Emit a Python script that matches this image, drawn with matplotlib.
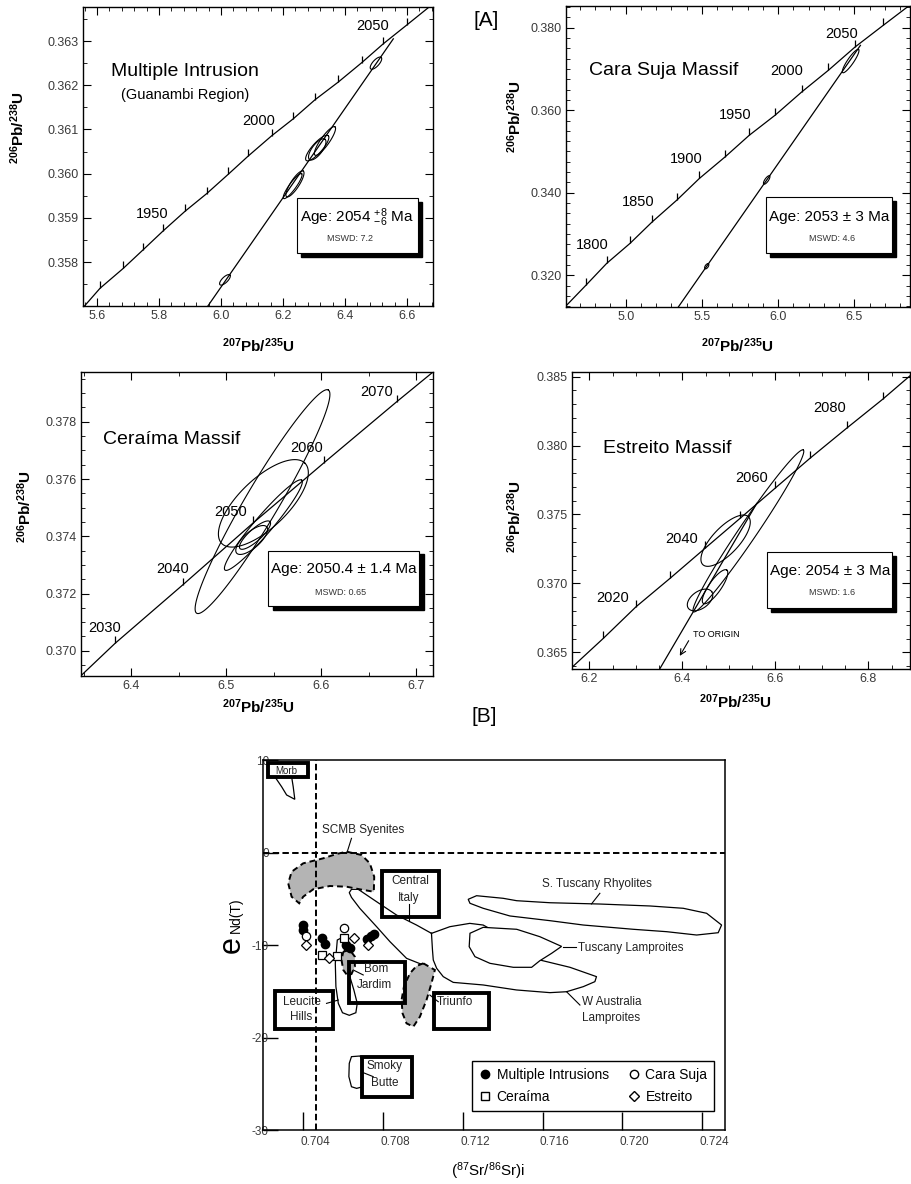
import numpy as np
import matplotlib
matplotlib.use("Agg")
import matplotlib.pyplot as plt
from matplotlib.patches import Rectangle
from matplotlib.lines import Line2D
from matplotlib.ticker import MultipleLocator, FormatStrFormatter
import matplotlib.transforms as mtransforms

plt.rcParams["font.family"] = ["Liberation Sans", "DejaVu Sans"]
plt.rcParams["mathtext.fontset"] = "custom"
plt.rcParams["mathtext.rm"] = "Liberation Sans"
plt.rcParams["mathtext.it"] = "Liberation Sans:italic"
plt.rcParams["mathtext.bf"] = "Liberation Sans:bold"

# ---------------- [A] Multiple Intrusion (Guanambi Region) ----------------
mi_ends_x = [5.555, 6.684]
mi_ends_y = [0.35697, 0.36384]
mi_tick_x = [5.610, 5.685, 5.749, 5.814, 5.884, 5.954, 6.024, 6.088, 6.164,
             6.233, 6.303, 6.378, 6.454, 6.524, 6.599]
mi_tick_y = [0.35741, 0.35786, 0.35828, 0.35871, 0.35915, 0.35955, 0.35999,
             0.36040, 0.36086, 0.36124, 0.36167, 0.36207, 0.36251, 0.36294, 0.36336]
mi_age = ["1950", "2000", "2050"]
mi_age_x = [5.777, 6.123, 6.490]
mi_age_y = [0.35908, 0.36120, 0.36333]
mi_disc_x = [5.954, 6.556]
mi_disc_y = [0.35697, 0.36305]
mi_ell_cx = [6.500, 6.3106, 6.3355, 6.3106, 6.2387, 6.2313, 6.0129]
mi_ell_cy = [0.36250, 0.36058, 0.36074, 0.36055, 0.35977, 0.35972, 0.35760]
mi_ell_ex = [6.517, 6.3461, 6.3677, 6.3355, 6.2655, 6.2603, 6.0290]
mi_ell_ey = [0.36263, 0.36086, 0.36106, 0.36078, 0.36006, 0.36000, 0.35771]
mi_ell_r = [0.4, 0.3, 0.25, 0.4, 0.28, 0.22, 0.4]

# ---------------- Cara Suja Massif ----------------
cs_ends_x = [4.608, 6.866]
cs_ends_y = [0.31260, 0.38550]
cs_tick_x = [4.740, 4.875, 5.028, 5.175, 5.335, 5.483, 5.652, 5.811, 5.980,
             6.155, 6.330, 6.505, 6.690]
cs_tick_y = [0.31765, 0.32290, 0.32774, 0.33300, 0.33821, 0.34346, 0.34869,
             0.35394, 0.35878, 0.36442, 0.36967, 0.37531, 0.38056]
cs_age = ["1800", "1850", "1900", "1950", "2000", "2050"]
cs_age_x = [4.7835, 5.0827, 5.3957, 5.7172, 6.0564, 6.4173]
cs_age_y = [0.32733, 0.33780, 0.34806, 0.35878, 0.36943, 0.37855]
cs_disc_x = [5.345, 6.540]
cs_disc_y = [0.31233, 0.37570]
cs_ell_cx = [6.476, 5.925, 5.5315]
cs_ell_cy = [0.3719, 0.3431, 0.3222]
cs_ell_ex = [6.528, 5.944, 5.5427]
cs_ell_ey = [0.3747, 0.3441, 0.3228]
cs_ell_r = [0.22, 0.35, 0.5]

# ---------------- Ceraima Massif ----------------
ce_ends_x = [6.347, 6.7176]
ce_ends_y = [0.36912, 0.37973]
ce_tick_x = [6.3832, 6.4544, 6.5287, 6.6032, 6.6797]
ce_tick_y = [0.37026, 0.37230, 0.37447, 0.37657, 0.37870]
ce_age = ["2030", "2040", "2050", "2060", "2070"]
ce_age_x = [6.3726, 6.4439, 6.5053, 6.5849, 6.6586]
ce_age_y = [0.37078, 0.37284, 0.37486, 0.37707, 0.37905]
ce_ell_cx = [6.5384, 6.5393, 6.5393, 6.5305, 6.5270]
ce_ell_cy = [0.37521, 0.37515, 0.37439, 0.37404, 0.37387]
ce_ell_ex = [6.6077, 6.5832, 6.5797, 6.5463, 6.5428]
ce_ell_ey = [0.37911, 0.37655, 0.37596, 0.37451, 0.37433]
ce_ell_r = [0.13, 0.42, 0.15, 0.3, 0.4]

# ---------------- Estreito Massif ----------------
es_ends_x = [6.162, 6.8897]
es_ends_y = [0.36390, 0.38506]
es_tick_x = [6.2301, 6.3004, 6.3735, 6.4488, 6.5241, 6.5993, 6.6746, 6.7535, 6.8310]
es_tick_y = [0.36602, 0.36831, 0.37037, 0.37255, 0.37472, 0.37690, 0.37908,
             0.38126, 0.38336]
es_age = ["2020", "2040", "2060", "2080"]
es_age_x = [6.2503, 6.3987, 6.5492, 6.7176]
es_age_y = [0.36892, 0.37320, 0.37763, 0.38271]
es_disc_x = [6.352, 6.560]
es_disc_y = [0.36384, 0.37580]
es_ell_cx = [6.542, 6.493, 6.438, 6.4703]
es_ell_cy = [0.37381, 0.3731, 0.3688, 0.36976]
es_ell_ex = [6.6602, 6.5419, 6.4632, 6.4955]
es_ell_ey = [0.37968, 0.37484, 0.3694, 0.37097]
es_ell_r = [0.09, 0.4, 0.6, 0.3]

# ---------------- [B] Sr-Nd diagram ----------------
sr_ticks = [0.704, 0.708, 0.712, 0.716, 0.720, 0.724]
nd_ticks = [-30, -20, -10, 0, 10]
sr_ref = 0.70462   # vertical dashed reference

mi_sr = [0.70400, 0.70400, 0.70495, 0.70507, 0.70617, 0.70634, 0.70722, 0.70740, 0.70755]
mi_nd = [-7.84, -8.38, -9.28, -9.89, -10.00, -10.36, -9.35, -9.00, -8.80]
cs_sr = [0.70414, 0.70604]
cs_nd = [-9.03, -8.20]
ce_sr = [0.70494, 0.70571, 0.70604]
ce_nd = [-11.08, -11.19, -9.28]
es_sr = [0.70414, 0.70530, 0.70656, 0.70726]
es_nd = [-10.00, -11.44, -9.28, -10.00]

scmb_x = [0.70618, 0.70693, 0.70734, 0.70756, 0.70754, 0.70684, 0.70618, 0.70534, 0.70450,
          0.70400, 0.70380, 0.70342, 0.70325, 0.70342, 0.70400, 0.70500, 0.70567]
scmb_y = [0.09, -0.27, -1.17, -2.62, -4.24, -3.98, -3.70, -3.62, -3.98,
          -4.78, -5.49, -4.78, -3.33, -2.08, -1.17, -0.63, -0.16]
ciwa_x = [0.71002, 0.70918, 0.70835, 0.70768, 0.70684, 0.70642, 0.70631, 0.70642, 0.70676,
          0.70768, 0.70868, 0.70968, 0.71043, 0.71135, 0.71235, 0.71302, 0.71469, 0.71586,
          0.71737, 0.71870, 0.71862, 0.71804, 0.71720, 0.71637, 0.71469, 0.71302, 0.71152,
          0.71102, 0.71069, 0.71052, 0.71048, 0.71043]
ciwa_y = [-12.16, -11.44, -9.64, -8.02, -6.04, -4.85, -4.34, -3.98, -3.98,
          -5.32, -6.76, -7.84, -8.74, -8.02, -7.66, -7.84, -9.82, -11.62,
          -12.41, -13.42, -13.96, -14.50, -15.05, -15.15, -14.86, -14.32, -14.04,
          -13.42, -12.52, -11.62, -10.54, -8.74]
tl_x = [0.71236, 0.71302, 0.71470, 0.71586, 0.71695, 0.71645, 0.71586, 0.71545,
        0.71453, 0.71336, 0.71261, 0.71232]
tl_y = [-8.73, -8.09, -8.30, -9.10, -10.15, -10.90, -11.70, -12.41,
        -12.41, -11.98, -11.26, -10.18]
str_x = [0.71227, 0.71269, 0.71402, 0.71470, 0.71637, 0.71887, 0.72138, 0.72305, 0.72422,
         0.72497, 0.72480, 0.72372, 0.72222, 0.72054, 0.71804, 0.71637, 0.71436, 0.71302, 0.71236]
str_y = [-5.06, -4.67, -4.95, -5.21, -5.43, -5.57, -5.78, -6.03, -6.57,
         -7.84, -8.67, -8.92, -8.56, -8.30, -7.84, -7.37, -6.86, -6.03, -5.49]
tri_x = [0.71002, 0.71060, 0.71043, 0.71018, 0.70985, 0.70952, 0.70918, 0.70898,
         0.70893, 0.70905, 0.70935, 0.70968]
tri_y = [-11.98, -12.70, -14.14, -15.95, -17.75, -18.83, -18.47, -17.39,
         -15.95, -14.50, -13.06, -12.27]
bj_x = [0.70601, 0.70634, 0.70659, 0.70659, 0.70642, 0.70621, 0.70601, 0.70592]
bj_y = [-10.72, -10.54, -11.26, -12.34, -13.14, -13.28, -12.70, -11.62]
lh_x = [0.70571, 0.70561, 0.70564, 0.70576, 0.70597, 0.70631, 0.70664, 0.70671,
        0.70654, 0.70634, 0.70617, 0.70601, 0.70587]
lh_y = [-9.46, -11.98, -14.50, -16.31, -17.32, -17.60, -17.32, -16.31,
        -14.86, -13.42, -11.62, -9.82, -9.28]
sb_x = [0.70642, 0.70684, 0.70698, 0.70698, 0.70668, 0.70642, 0.70629, 0.70631]
sb_y = [-22.07, -22.00, -22.43, -25.32, -25.50, -25.32, -24.23, -22.79]
mb_x = [0.70258, 0.70292, 0.70317, 0.70358, 0.70350, 0.70342]
mb_y = [8.19, 7.11, 6.22, 5.75, 7.11, 8.19]

# label boxes: (x0, x1, y0, y1)
label_boxes = [(0.70225, 0.70425, 8.20, 9.71),     # Morb
               (0.70793, 0.71080, -7.01, -2.00),   # Central Italy
               (0.70629, 0.70910, -16.31, -11.80), # Bom Jardim
               (0.70261, 0.70547, -19.08, -14.97), # Leucite Hills
               (0.71055, 0.71331, -19.08, -15.15), # Triunfo
               (0.70693, 0.70943, -26.40, -22.07)] # Smoky Butte
labels_txt = ["Morb", "Central", "Italy", "Bom", "Jardim", "Leucite", "Hills",
              "Triunfo", "Smoky", "Butte", "SCMB Syenites", "S. Tuscany Rhyolites"]
labels_x = [0.70317, 0.70935, 0.70927, 0.70764, 0.70759, 0.70392, 0.70392,
            0.71160, 0.70810, 0.70810, 0.70698, 0.71870]
labels_y = [8.85, -3.08, -4.95, -12.59, -14.32, -16.13, -17.75,
            -16.20, -23.08, -24.95, 2.43, -3.41]
leaders = [((0.70642, 0.70621), (1.53, 0.09)),
           ((0.71887, 0.71845), (-4.41, -5.56)),
           ((0.71703, 0.71767), (-10.18, -10.18)),
           ((0.71720, 0.71787), (-15.05, -16.49)),
           ((0.70932, 0.70932), (-5.56, -7.37)),
           ((0.70517, 0.70576), (-16.31, -15.95)),
           ((0.70651, 0.70701), (-12.70, -13.24)),
           ((0.71035, 0.71077), (-15.41, -16.13)),
           ((0.70701, 0.70751), (-23.80, -24.23))]

fig = plt.figure(figsize=(9.11, 11.84), dpi=100)


def concordia_panel(rect, xlim, ylim, xstep, xminor, ystep, yminor, xfmt):
    ax = fig.add_axes(rect)
    ax.set_xlim(xlim)
    ax.set_ylim(ylim)
    ax.xaxis.set_major_locator(MultipleLocator(xstep))
    ax.xaxis.set_minor_locator(MultipleLocator(xminor))
    ax.yaxis.set_major_locator(MultipleLocator(ystep))
    ax.yaxis.set_minor_locator(MultipleLocator(yminor))
    ax.xaxis.set_major_formatter(FormatStrFormatter(xfmt))
    ax.yaxis.set_major_formatter(FormatStrFormatter("%.3f"))
    ax.tick_params(which="both", direction="in", top=True, right=True,
                   labelsize=9, labelcolor="#3a3a3a", pad=3)
    ax.tick_params(which="major", length=6, width=0.8)
    ax.tick_params(which="minor", length=3, width=0.6)
    for s in ax.spines.values():
        s.set_linewidth(1.0)
    return ax


def draw_concordia(ax, ends_x, ends_y, tx, ty, ages, ax_, ay_):
    cx = [ends_x[0]] + tx + [ends_x[1]]
    cy = [ends_y[0]] + ty + [ends_y[1]]
    ax.plot(cx, cy, color="k", lw=0.9)
    ax.plot(tx, ty, ls="none", marker=2, ms=5, mew=0.9, color="k")
    for a, x, y in zip(ages, ax_, ay_):
        ax.text(x, y, a, fontsize=10.5, ha="center", va="center")


def draw_ellipses(ax, cx, cy, ex, ey, rr):
    T = ax.transData
    t = np.linspace(0, 2 * np.pi, 120)
    for a, b, c, d, r in zip(cx, cy, ex, ey, rr):
        c0 = T.transform((a, b))
        e0 = T.transform((c, d))
        u = e0 - c0
        v = r * np.array([-u[1], u[0]])
        pts = c0 + np.outer(np.cos(t), u) + np.outer(np.sin(t), v)
        dp = T.inverted().transform(pts)
        ax.plot(dp[:, 0], dp[:, 1], color="k", lw=0.8)


def age_box(ax, x0, x1, y0, y1, txt, tx, ty, mswd, mx, my):
    ax.add_patch(Rectangle((x0 + 0.012, y0 - 0.013), x1 - x0, y1 - y0,
                           transform=ax.transAxes, fc="k", ec="k", zorder=4))
    ax.add_patch(Rectangle((x0, y0), x1 - x0, y1 - y0, transform=ax.transAxes,
                           fc="white", ec="k", lw=0.8, zorder=5))
    ax.text(tx, ty, txt, transform=ax.transAxes, fontsize=11, ha="center",
            va="center", zorder=6)
    ax.text(mx, my, mswd, transform=ax.transAxes, fontsize=6.5, ha="center",
            va="center", zorder=6, color="#333333")


# ---- panel 1
ax1 = concordia_panel([0.0911, 0.7416, 0.3842, 0.2525], (5.555, 6.684),
                      (0.35701, 0.36377), 0.2, 0.04, 0.001, 0.0005, "%.1f")
draw_concordia(ax1, mi_ends_x, mi_ends_y, mi_tick_x, mi_tick_y, mi_age, mi_age_x, mi_age_y)
ax1.plot(mi_disc_x, mi_disc_y, color="k", lw=0.9)
draw_ellipses(ax1, mi_ell_cx, mi_ell_cy, mi_ell_ex, mi_ell_ey, mi_ell_r)
ax1.text(0.291, 0.783, "Multiple Intrusion", transform=ax1.transAxes, fontsize=14,
         ha="center", va="center")
ax1.text(0.291, 0.706, "(Guanambi Region)", transform=ax1.transAxes, fontsize=10.5,
         ha="center", va="center")
age_box(ax1, 0.611, 0.957, 0.177, 0.361, r"Age: 2054 $^{+8}_{-6}$ Ma", 0.784, 0.294,
        "MSWD: 7.2", 0.763, 0.227)

# ---- panel 2
ax2 = concordia_panel([0.6213, 0.7407, 0.3776, 0.2542], (4.608, 6.8655),
                      (0.31233, 0.38523), 0.5, 0.1, 0.02, 0.0025, "%.1f")
draw_concordia(ax2, cs_ends_x, cs_ends_y, cs_tick_x, cs_tick_y, cs_age, cs_age_x, cs_age_y)
ax2.plot(cs_disc_x, cs_disc_y, color="k", lw=0.9)
draw_ellipses(ax2, cs_ell_cx, cs_ell_cy, cs_ell_ex, cs_ell_ey, cs_ell_r)
ax2.text(0.284, 0.787, "Cara Suja Massif", transform=ax2.transAxes, fontsize=14,
         ha="center", va="center")
age_box(ax2, 0.581, 0.947, 0.180, 0.365, "Age: 2053 ± 3 Ma", 0.764, 0.300,
        "MSWD: 4.6", 0.773, 0.229)

# ---- panel 3
ax3 = concordia_panel([0.0886, 0.4291, 0.3864, 0.2565], (6.347, 6.7176),
                      (0.36912, 0.37973), 0.1, 0.05, 0.002, 0.0005, "%.1f")
draw_concordia(ax3, ce_ends_x, ce_ends_y, ce_tick_x, ce_tick_y, ce_age, ce_age_x, ce_age_y)
draw_ellipses(ax3, ce_ell_cx, ce_ell_cy, ce_ell_ex, ce_ell_ey, ce_ell_r)
ax3.text(0.259, 0.780, "Ceraíma Massif", transform=ax3.transAxes, fontsize=14,
         ha="center", va="center")
age_box(ax3, 0.533, 0.962, 0.231, 0.413, "Age: 2050.4 ± 1.4 Ma", 0.746, 0.351,
        "MSWD: 0.65", 0.737, 0.276)

# ---- panel 4
ax4 = concordia_panel([0.6276, 0.4347, 0.3713, 0.2514], (6.162, 6.8897),
                      (0.36377, 0.38536), 0.2, 0.05, 0.005, 0.001, "%.1f")
draw_concordia(ax4, es_ends_x, es_ends_y, es_tick_x, es_tick_y, es_age, es_age_x, es_age_y)
ax4.plot(es_disc_x, es_disc_y, color="k", lw=0.9)
draw_ellipses(ax4, es_ell_cx, es_ell_cy, es_ell_ex, es_ell_ey, es_ell_r)
ax4.text(0.282, 0.743, "Estreito Massif", transform=ax4.transAxes, fontsize=14,
         ha="center", va="center")
age_box(ax4, 0.578, 0.946, 0.205, 0.393, "Age: 2054 ± 3 Ma", 0.764, 0.331,
        "MSWD: 1.6", 0.769, 0.257)
ax4.text(6.4237, 0.36633, "TO ORIGIN", fontsize=6.5, ha="left", va="center")
ax4.annotate("", xy=(6.3914, 0.36457), xytext=(6.4166, 0.36602),
             arrowprops=dict(arrowstyle="->", lw=0.8, color="k"))

ylab = r"$^{\mathbf{206}}\mathbf{Pb/}^{\mathbf{238}}\mathbf{U}$"
xlab = r"$^{\mathbf{207}}\mathbf{Pb/}^{\mathbf{235}}\mathbf{U}$"
for x, y in [(0.0198, 0.8919), (0.5653, 0.9012), (0.0274, 0.5720), (0.5653, 0.5636)]:
    fig.text(x, y, ylab, rotation=90, fontsize=11, ha="center", va="center")
for x, y in [(0.2832, 0.7078), (0.8090, 0.7078), (0.2832, 0.4029), (0.8068, 0.4071)]:
    fig.text(x, y, xlab, fontsize=11, ha="center", va="center")
fig.text(0.534, 0.983, "[A]", fontsize=15, ha="center", va="center")
fig.text(0.532, 0.3947, "[B]", fontsize=15, ha="center", va="center")

# ---- panel 5: Sr-Nd
ax5 = fig.add_axes([0.2890, 0.0456, 0.5068, 0.3125])
ax5.set_xlim(0.702, 0.72514)
ax5.set_ylim(-30, 10)
ax5.set_xticks(sr_ticks)
ax5.set_xticklabels([f"{v:.3f}" for v in sr_ticks])
ax5.set_yticks(nd_ticks)
ax5.set_yticklabels([str(v) for v in nd_ticks])
ax5.tick_params(axis="x", direction="in", length=13, width=1.0, labelsize=8.5,
                labelcolor="#3a3a3a", pad=4)
ax5.tick_params(axis="y", direction="in", length=11, width=1.0, labelsize=8.5,
                labelcolor="#3a3a3a", pad=-4)
off = mtransforms.ScaledTranslation(-2 / 72, 0, fig.dpi_scale_trans)
for lab in ax5.get_xticklabels():
    lab.set_ha("left")
    lab.set_transform(lab.get_transform() + off)
for s in ax5.spines.values():
    s.set_linewidth(1.1)

ax5.axhline(0, color="k", lw=1.4, ls=(0, (3.3, 1.7)), zorder=3.5)
ax5.axvline(sr_ref, color="k", lw=1.4, ls=(0, (3.3, 1.7)), zorder=3.5)

ax5.plot(ciwa_x, ciwa_y, color="k", lw=0.9, zorder=2)
ax5.fill(tl_x, tl_y, fc="white", ec="k", lw=0.9, zorder=2.5)
ax5.fill(str_x, str_y, fc="white", ec="k", lw=0.9, zorder=2.5)
ax5.fill(lh_x, lh_y, fc="none", ec="k", lw=0.9, zorder=2)
ax5.fill(sb_x, sb_y, fc="none", ec="k", lw=0.9, zorder=2)
ax5.fill(mb_x, mb_y, fc="none", ec="k", lw=0.9, zorder=2)
for gx, gy in [(scmb_x, scmb_y), (tri_x, tri_y), (bj_x, bj_y)]:
    ax5.fill(gx, gy, fc="#b4b4b4", ec="k", lw=1.4, ls=(0, (3, 2)), zorder=3)

for x0, x1, y0, y1 in label_boxes:
    ax5.add_patch(Rectangle((x0, y0), x1 - x0, y1 - y0, fc="none", ec="k",
                            lw=2.8, zorder=4))
for (lx, ly) in leaders:
    ax5.plot(lx, ly, color="k", lw=0.8, zorder=5)
for t, x, y in zip(labels_txt, labels_x, labels_y):
    fs = 7 if t == "Morb" else 8.5
    ax5.text(x, y, t, fontsize=fs, ha="center", va="center", color="#222222", zorder=6)
ax5.text(0.71779, -10.36, "Tuscany Lamproites", fontsize=8.5, ha="left", va="center",
         color="#222222", zorder=6)
ax5.text(0.71795, -16.13, "W Australia", fontsize=8.5, ha="left", va="center",
         color="#222222", zorder=6)
ax5.text(0.71795, -17.93, "Lamproites", fontsize=8.5, ha="left", va="center",
         color="#222222", zorder=6)

ax5.plot(mi_sr, mi_nd, ls="none", marker="o", ms=6, mfc="k", mec="k", zorder=7)
ax5.plot(cs_sr, cs_nd, ls="none", marker="o", ms=6, mfc="white", mec="k", mew=0.9, zorder=7)
ax5.plot(ce_sr, ce_nd, ls="none", marker="s", ms=5.5, mfc="white", mec="k", mew=0.9, zorder=7)
ax5.plot(es_sr, es_nd, ls="none", marker="D", ms=5.5, mfc="white", mec="k", mew=0.9, zorder=7)

handles = [Line2D([], [], ls="none", marker="o", ms=6, mfc="k", mec="k"),
           Line2D([], [], ls="none", marker="s", ms=5.5, mfc="white", mec="k"),
           Line2D([], [], ls="none", marker="o", ms=6, mfc="white", mec="k"),
           Line2D([], [], ls="none", marker="D", ms=5.5, mfc="white", mec="k")]
leg = ax5.legend(handles, ["Multiple Intrusions", "Ceraíma", "Cara Suja", "Estreito"],
                 ncol=2, loc="lower left", bbox_to_anchor=(0.451, 0.051, 0.526, 0.147),
                 mode="expand", borderaxespad=0, fancybox=False, edgecolor="k",
                 framealpha=1, fontsize=10, handletextpad=0.3, handlelength=1.0,
                 borderpad=0.5, labelspacing=0.6)
leg.get_frame().set_linewidth(1.0)
leg.set_zorder(8)

fig.text(0.5360, 0.0104, r"($^{87}$Sr/$^{86}$Sr)i", fontsize=11, ha="center", va="center")
fig.text(232 / 911, 1 - 945 / 1184, "e", rotation=90, fontsize=22, ha="center", va="center")
fig.text(236 / 911, 1 - 915 / 1184, "Nd(T)", rotation=90, fontsize=10, ha="center", va="center")

fig.savefig("out.png", dpi=100)
